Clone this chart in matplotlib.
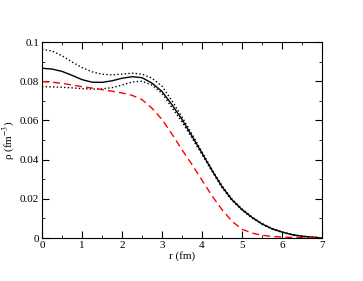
import matplotlib
matplotlib.use("Agg")
import matplotlib.pyplot as plt
from matplotlib.ticker import MultipleLocator

plt.rcParams['font.family'] = ['Liberation Serif', 'DejaVu Serif']
plt.rcParams['mathtext.fontset'] = 'stix'

r = [0.0, 0.25, 0.5, 0.75, 1.0, 1.25, 1.5, 1.75, 2.0, 2.25, 2.5, 2.75, 3.0, 3.25, 3.5,
     3.75, 4.0, 4.25, 4.5, 4.75, 5.0, 5.25, 5.5, 5.75, 6.0, 6.25, 6.5, 6.75, 7.0]

# central density
rho_mid = [0.0866, 0.0862, 0.0850, 0.0830, 0.0808, 0.0795, 0.0794, 0.0802, 0.0815, 0.0823,
           0.0818, 0.0790, 0.0748, 0.0680, 0.0605, 0.0520, 0.0433, 0.0345, 0.0262, 0.0195,
           0.0145, 0.0105, 0.0072, 0.0047, 0.0030, 0.0017, 0.0009, 0.0004, 0.0001]

# upper / lower band (dotted)
rho_up = [0.0963, 0.0954, 0.0930, 0.0898, 0.0870, 0.0848, 0.0836, 0.0832, 0.0836, 0.0841,
          0.0836, 0.0815, 0.0775, 0.0700, 0.0618, 0.0530, 0.0440, 0.0350, 0.0267, 0.0199,
          0.0148, 0.0108, 0.0074, 0.0049, 0.0031, 0.0018, 0.0010, 0.0005, 0.0001]

rho_low = [0.0772, 0.0771, 0.0769, 0.0766, 0.0762, 0.0760, 0.0761, 0.0767, 0.0780, 0.0796,
           0.0800, 0.0780, 0.0738, 0.0665, 0.0592, 0.0510, 0.0426, 0.0340, 0.0257, 0.0191,
           0.0142, 0.0102, 0.0070, 0.0045, 0.0029, 0.0016, 0.0008, 0.0003, 0.0001]

# red dashed
rho_red = [0.0798, 0.0795, 0.0789, 0.0781, 0.0772, 0.0765, 0.0757, 0.0749, 0.0740, 0.0728,
           0.0706, 0.0662, 0.0605, 0.0530, 0.0450, 0.0375, 0.0295, 0.0215, 0.0145, 0.0085,
           0.0045, 0.0025, 0.0014, 0.0008, 0.0005, 0.0003, 0.0002, 0.0001, 0.0000]

x_ticks = [0, 1, 2, 3, 4, 5, 6, 7]
y_ticks = [0, 0.02, 0.04, 0.06, 0.08, 0.1]
y_labels = ["0", "0.02", "0.04", "0.06", "0.08", "0.1"]

fig = plt.figure(figsize=(3.63, 2.81), dpi=100)
ax = fig.add_axes([42 / 363, 43 / 281, 280 / 363, 196 / 281])

ax.plot(r, rho_up, color='black', linestyle=':', linewidth=1.0)
ax.plot(r, rho_low, color='black', linestyle=':', linewidth=1.0)
ax.plot(r, rho_mid, color='black', linestyle='-', linewidth=1.0)
ax.plot(r, rho_red, color='red', linestyle=(0, (5, 3)), linewidth=1.0)

ax.set_xlim(0, 7)
ax.set_ylim(0, 0.1)
ax.set_xticks(x_ticks)
ax.set_yticks(y_ticks)
ax.set_yticklabels(y_labels)
ax.xaxis.set_minor_locator(MultipleLocator(0.5))
ax.yaxis.set_minor_locator(MultipleLocator(0.01))
ax.tick_params(which='both', direction='in', top=True, right=True, labelsize=8, pad=2)
ax.tick_params(which='major', length=5)
ax.tick_params(which='minor', length=2.5)

ax.set_xlabel("r (fm)", fontsize=8, labelpad=1)
ax.set_ylabel(r"ρ (fm$^{-3}$)", fontsize=8, labelpad=2)

fig.savefig("out.png", dpi=100)
